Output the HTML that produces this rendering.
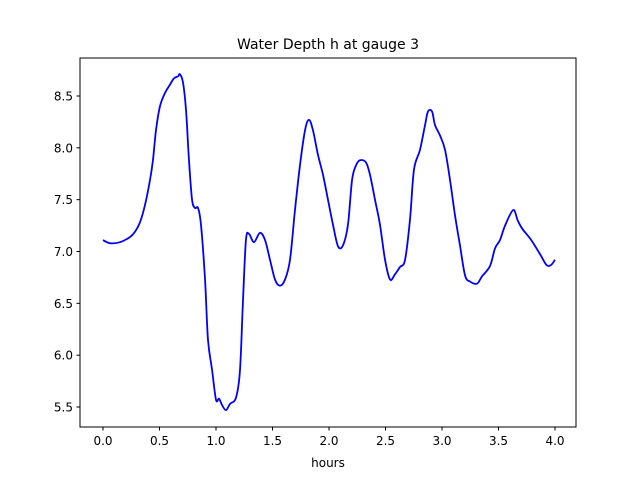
<!DOCTYPE html>
<html><head><meta charset="utf-8"><style>
body{margin:0;background:#fff;}
svg text{font-family:"DejaVu Sans","Liberation Sans",sans-serif;fill:#000;}
</style></head><body>
<svg width="640" height="480" xmlns="http://www.w3.org/2000/svg">
<rect width="640" height="480" fill="#fff"/>
<g id="plot"></g>
<rect x="80" y="58" width="496" height="369" fill="none" stroke="#000" stroke-width="1"/>
<text x="328" y="49" text-anchor="middle" font-size="14">Water Depth h at gauge 3</text>
<text x="328" y="467" text-anchor="middle" font-size="12">hours</text>
</svg>
<script>
const hours=[0,.062,.15,.24,.283,.327,.372,.416,.442,.469,.504,.549,.593,.628,.664,.681,.708,.735,.761,.788,.814,.841,.867,.903,.929,.965,1.0,1.027,1.053,1.088,1.124,1.177,1.212,1.239,1.265,1.292,1.336,1.389,1.434,1.478,1.522,1.566,1.611,1.655,1.699,1.743,1.788,1.823,1.858,1.903,1.947,1.991,2.035,2.080,2.124,2.168,2.204,2.239,2.274,2.327,2.363,2.407,2.451,2.496,2.540,2.584,2.628,2.673,2.717,2.752,2.805,2.850,2.876,2.912,2.938,2.982,3.027,3.071,3.115,3.159,3.204,3.248,3.31,3.354,3.425,3.469,3.513,3.558,3.630,3.670,3.710,3.790,3.870,3.925,3.965,4.0];
const depth=[7.11,7.08,7.09,7.14,7.19,7.28,7.45,7.69,7.88,8.17,8.40,8.53,8.61,8.67,8.69,8.71,8.63,8.36,7.88,7.50,7.42,7.42,7.26,6.73,6.15,5.86,5.57,5.58,5.52,5.47,5.53,5.59,5.85,6.53,7.11,7.17,7.09,7.18,7.11,6.92,6.73,6.67,6.73,6.92,7.40,7.83,8.17,8.27,8.17,7.93,7.74,7.50,7.26,7.05,7.06,7.26,7.69,7.83,7.88,7.86,7.74,7.50,7.26,6.92,6.73,6.78,6.85,6.92,7.31,7.79,7.98,8.22,8.35,8.35,8.22,8.12,7.98,7.69,7.35,7.06,6.77,6.71,6.69,6.76,6.86,7.03,7.11,7.25,7.40,7.30,7.22,7.11,6.97,6.87,6.87,6.92];
const xTicks=[0,0.5,1,1.5,2,2.5,3,3.5,4];
const yTicks=[5.5,6,6.5,7,7.5,8,8.5];
const xs=t=>103+t*113;
const ys=v=>96+(8.5-v)*103.67;
const NS="http://www.w3.org/2000/svg";
const g=document.getElementById('plot');
function mk(tag,attrs){const e=document.createElementNS(NS,tag);for(const k in attrs)e.setAttribute(k,attrs[k]);g.appendChild(e);return e;}
xTicks.forEach(t=>{
 const l=mk('line',{x1:xs(t),x2:xs(t),y1:427,y2:430.5,stroke:'#000'});
 
 
 const tx=mk('text',{x:xs(t),y:445,'text-anchor':'middle','font-size':'12'});
 tx.textContent=t.toFixed(1);
 
 
});
yTicks.forEach(v=>{
 const l=mk('line',{x1:76.5,x2:80,y1:ys(v),y2:ys(v),stroke:'#000'});
 
 
 const tx=mk('text',{x:73,y:ys(v)+4.5,'text-anchor':'end','font-size':'12'});
 tx.textContent=v.toFixed(1);
 
 
});
let d='';
for(let i=0;i<hours.length;i++){
 if(i===0){d+='M'+xs(hours[0])+','+ys(depth[0]);continue;}
 const a=Math.max(i-2,0),b=i-1,c=i,e=Math.min(i+1,hours.length-1);
 const c1x=xs(hours[b])+(xs(hours[c])-xs(hours[a]))/6,c1y=ys(depth[b])+(ys(depth[c])-ys(depth[a]))/6;
 const c2x=xs(hours[c])-(xs(hours[e])-xs(hours[b]))/6,c2y=ys(depth[c])-(ys(depth[e])-ys(depth[b]))/6;
 d+=' C'+c1x+','+c1y+' '+c2x+','+c2y+' '+xs(hours[c])+','+ys(depth[c]);
}
const path=mk('path',{d:d,fill:'none',stroke:'#0000ff','stroke-width':'1.8'});


</script>
</body></html>
